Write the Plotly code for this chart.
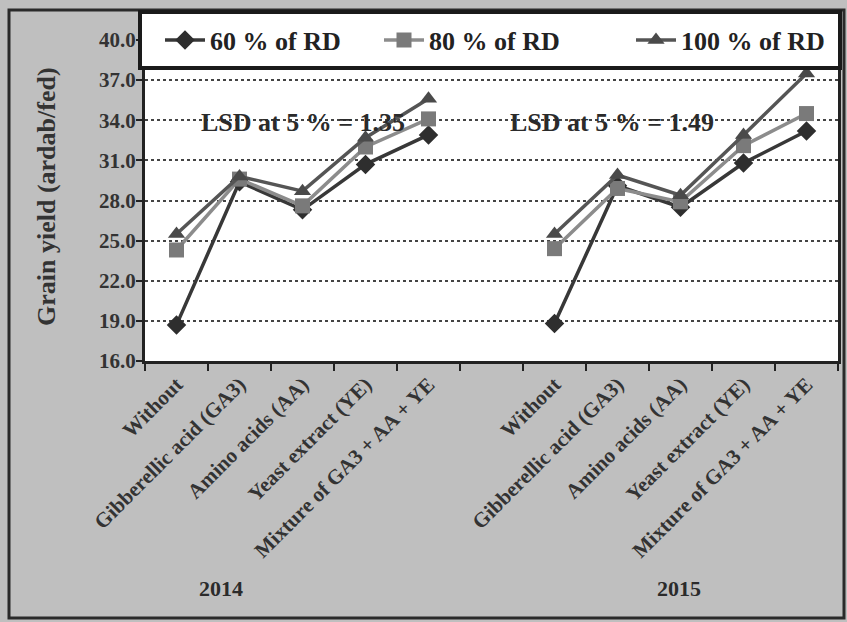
import plotly.graph_objects as go

# ---- data ----
treatments = ["Without", "Gibberellic acid (GA3)", "Amino acids (AA)",
              "Yeast extract (YE)", "Mixture of GA3 + AA + YE"]
years = ["2014", "2015"]
rd60_2014 = [18.7, 29.4, 27.3, 30.7, 32.9]
rd80_2014 = [24.3, 29.6, 27.6, 32.0, 34.1]
rd100_2014 = [25.5, 29.8, 28.7, 32.7, 35.6]
rd60_2015 = [18.8, 29.1, 27.5, 30.8, 33.2]
rd80_2015 = [24.4, 28.9, 27.9, 32.1, 34.5]
rd100_2015 = [25.5, 29.9, 28.4, 32.9, 37.5]
lsd_labels = ["LSD at 5 % = 1.35", "LSD at 5 % = 1.49"]
y_ticks = [16.0, 19.0, 22.0, 25.0, 28.0, 31.0, 34.0, 37.0, 40.0]

# ---- layout constants (pixels) ----
W, H = 847, 622
ML, MR, MT, MB = 145, 9, 40, 261
PW, PH = W - ML - MR, H - MT - MB

def px_x(p):
    return (p - ML) / PW

def px_y(p):
    return (H - MB - p) / PH

n = len(treatments)
xs = list(range(n)) + [n] + [n + 1 + i for i in range(n)]
labels = treatments + [""] + treatments

def join(a, b):
    return a + [None] + b

FONT = "Liberation Serif"
series = [
    ("60 % of RD", join(rd60_2014, rd60_2015), "#383838", "#2e2e2e", "diamond", "legend", 160),
    ("80 % of RD", join(rd80_2014, rd80_2015), "#8c8c8c", "#7a7a7a", "square", "legend2", 379),
    ("100 % of RD", join(rd100_2014, rd100_2015), "#555555", "#4a4a4a", "triangle-up", "legend3", 631),
]

fig = go.Figure()
legends = {}
for name, ys, lc, mc, sym, lg, lx in series:
    fig.add_trace(go.Scatter(
        x=xs, y=ys, name=name, mode="lines+markers",
        line=dict(color=lc, width=3.5),
        marker=dict(symbol=sym, size=15, color=mc),
        connectgaps=False, legend=lg,
    ))
    legends[lg] = dict(orientation="h", x=px_x(lx), xanchor="left", y=px_y(40),
                       yanchor="middle", bgcolor="rgba(0,0,0,0)", borderwidth=0,
                       font=dict(family=FONT, size=26, color="#222222", weight="bold"),
                       itemwidth=40)

# legend box
fig.add_shape(type="rect", xref="paper", yref="paper",
              x0=px_x(140), x1=px_x(840), y0=px_y(68), y1=px_y(12),
              line=dict(color="#1a1a1a", width=4), fillcolor="white", layer="above")
# outer border
fig.add_shape(type="rect", xref="paper", yref="paper",
              x0=px_x(9), x1=px_x(844), y0=px_y(618), y1=px_y(10),
              line=dict(color="#2a2a2a", width=3), layer="below")

# LSD annotations
for xc, txt in zip([2.0, 6.92], lsd_labels):
    fig.add_annotation(x=xc, y=33.8, xref="x", yref="y", text=txt, showarrow=False,
                       xanchor="center", yanchor="middle",
                       font=dict(family=FONT, size=26, color="#2b2b2b", weight="bold"))

# year annotations
for xc, yr in zip([0.71, 7.97], years):
    fig.add_annotation(x=xc, y=px_y(588), xref="x", yref="paper", text=yr,
                       showarrow=False, xanchor="center", yanchor="middle",
                       font=dict(family=FONT, size=22, color="#2b2b2b", weight="bold"))

# y axis title
fig.add_annotation(x=px_x(46), y=px_y(197), xref="paper", yref="paper",
                   text="Grain yield (ardab/fed)", textangle=-90, showarrow=False,
                   xanchor="center", yanchor="middle",
                   font=dict(family=FONT, size=26, color="#333333", weight="bold"))

fig.update_layout(
    width=W, height=H,
    margin=dict(l=ML, r=MR, t=MT, b=MB, autoexpand=False),
    paper_bgcolor="#bfbfbf", plot_bgcolor="white",
    font=dict(family=FONT, color="#333333"),
    showlegend=True,
    **legends,
)
fig.update_xaxes(
    range=[-0.5, 2 * n + 0.5], tickmode="array", tickvals=xs, ticktext=labels,
    tickangle=-45, ticks="", showgrid=False, zeroline=False, automargin=False,
    tickfont=dict(family=FONT, size=21, color="#333333", weight="bold"),
    showline=True, linewidth=3, linecolor="#222222", mirror=True,
    minor=dict(tickmode="array", tickvals=[i - 0.5 for i in range(2 * n + 2)],
               ticks="outside", ticklen=7, tickwidth=2, tickcolor="#222222"),
)
fig.update_yaxes(
    range=[16, 40], tickmode="array", tickvals=y_ticks,
    ticktext=[f"{v:.1f}" for v in y_ticks], automargin=False,
    ticks="outside", ticklen=6, tickwidth=2, tickcolor="#222222",
    ticklabelstandoff=-4,
    tickfont=dict(family=FONT, size=21, color="#333333", weight="bold"),
    showgrid=True, gridcolor="#444444", gridwidth=2, griddash="dot",
    showline=True, linewidth=3, linecolor="#222222", mirror=True, zeroline=False,
)

fig.write_html("out.html", config={"displayModeBar": False},
               post_script="document.body.style.margin='0px';")
